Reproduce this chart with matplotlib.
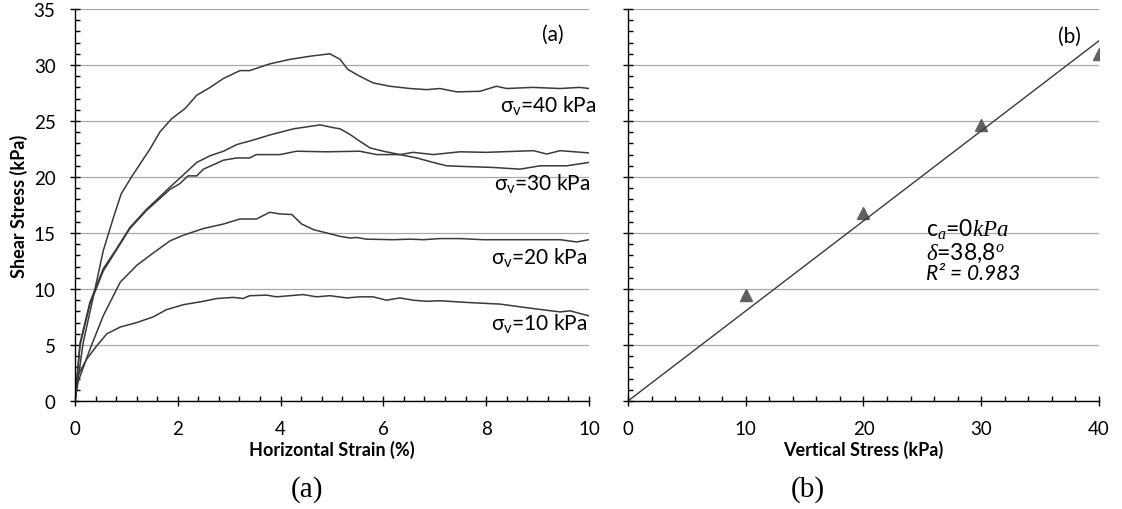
import numpy as np
import matplotlib
matplotlib.use("Agg")
import matplotlib.pyplot as plt
from matplotlib.ticker import MultipleLocator

plt.rcParams["font.family"] = ["Lato", "Open Sans", "DejaVu Sans"]
plt.rcParams["mathtext.fontset"] = "custom"
plt.rcParams["mathtext.rm"] = "Lato"
plt.rcParams["mathtext.it"] = "Liberation Serif:italic"

# (a) shear stress vs horizontal strain
s40_x = [0, 0.16, 0.39, 0.55, 0.75, 0.9, 1.1, 1.46, 1.65, 1.88, 2.14, 2.37, 2.63, 2.89,
         3.21, 3.4, 3.79, 4.18, 4.6, 4.96, 5.16, 5.31, 5.54, 5.8, 6.13, 6.52, 6.84, 7.1,
         7.43, 7.88, 8.2, 8.4, 8.91, 9.44, 9.82, 10]
s40_y = [0, 5.2, 10, 13.4, 16.4, 18.5, 20, 22.5, 24, 25.2, 26.1, 27.3, 28, 28.8,
         29.5, 29.5, 30.1, 30.5, 30.8, 31.0, 30.5, 29.6, 29.0, 28.4, 28.1, 27.9, 27.8, 27.9,
         27.6, 27.65, 28.1, 27.9, 28.0, 27.9, 28.0, 27.9]

s30a_x = [0, 0.1, 0.29, 0.55, 0.81, 1.07, 1.39, 1.85, 2.04, 2.37, 2.63, 2.89, 3.15, 3.47,
          3.79, 4.25, 4.77, 5.03, 5.16, 5.35, 5.54, 5.74, 6.0, 6.32, 6.65, 6.97, 7.23, 7.49,
          8.14, 8.66, 9.05, 9.57, 10]
s30a_y = [0, 5.2, 8.8, 11.8, 13.6, 15.5, 17.1, 19.1, 19.9, 21.3, 21.9, 22.3, 22.9, 23.3,
          23.75, 24.3, 24.65, 24.4, 24.3, 23.8, 23.2, 22.6, 22.3, 22.0, 21.7, 21.3, 21.0, 20.95,
          20.85, 20.7, 21.0, 21.0, 21.3]

s30b_x = [0, 0.1, 0.29, 0.55, 0.81, 1.07, 1.39, 1.85, 2.04, 2.2, 2.37, 2.5, 2.89, 3.15,
          3.4, 3.53, 3.99, 4.31, 4.9, 5.54, 5.87, 6.32, 6.58, 6.97, 7.49, 8.0, 8.92, 9.18,
          9.44, 10]
s30b_y = [0, 5.0, 8.6, 11.6, 13.5, 15.4, 17.0, 18.9, 19.4, 20.1, 20.1, 20.7, 21.5, 21.7,
          21.7, 22.0, 22.0, 22.3, 22.25, 22.3, 22.0, 22.0, 22.2, 22.0, 22.25, 22.2, 22.35, 22.05,
          22.35, 22.15]

s20_x = [0, 0.06, 0.29, 0.55, 0.88, 1.2, 1.46, 1.85, 2.11, 2.5, 2.89, 3.21, 3.53, 3.79,
         3.99, 4.22, 4.41, 4.64, 4.9, 5.16, 5.35, 5.48, 5.67, 6.19, 6.52, 6.78, 7.1, 7.49,
         7.94, 8.46, 8.98, 9.44, 9.76, 10]
s20_y = [0, 1.7, 4.6, 7.6, 10.6, 12.1, 13.0, 14.3, 14.8, 15.4, 15.8, 16.25, 16.25, 16.85,
         16.7, 16.65, 15.8, 15.3, 15.0, 14.7, 14.55, 14.6, 14.45, 14.4, 14.45, 14.4, 14.5, 14.5,
         14.4, 14.4, 14.4, 14.4, 14.2, 14.4]

s10_x = [0, 0.06, 0.23, 0.42, 0.62, 0.88, 1.2, 1.52, 1.78, 2.11, 2.5, 2.76, 3.08, 3.27,
         3.4, 3.73, 3.92, 4.44, 4.7, 4.96, 5.29, 5.54, 5.8, 6.06, 6.32, 6.58, 6.84, 7.1,
         7.62, 8.27, 8.92, 9.44, 9.63, 10]
s10_y = [0, 2.3, 3.75, 4.9, 6.0, 6.6, 7.0, 7.5, 8.15, 8.6, 8.9, 9.15, 9.25, 9.15,
         9.4, 9.45, 9.3, 9.5, 9.3, 9.4, 9.2, 9.3, 9.3, 9.0, 9.2, 9.0, 8.9, 8.95,
         8.8, 8.65, 8.25, 7.95, 8.05, 7.6]

curve_labels = ["σ$_{\\mathrm{v}}$=40 kPa", "σ$_{\\mathrm{v}}$=30 kPa",
                "σ$_{\\mathrm{v}}$=20 kPa", "σ$_{\\mathrm{v}}$=10 kPa"]

# (b) peak shear stress vs vertical stress
vertical_stress = [10, 20, 30, 40]
peak_shear = [9.5, 16.8, 24.6, 31.0]
c_a = 0.0
delta_deg = 38.8
r2 = 0.983

LINE = "#3a3a3a"
GRID = "#a8a8a8"

fig = plt.figure(figsize=(11.22, 5.10), dpi=100)
ax1 = fig.add_axes([0.0668, 0.2118, 0.4581, 0.7686])
ax2 = fig.add_axes([0.5597, 0.2118, 0.4198, 0.7686])


def style_axes(ax):
    for side in ("top", "right"):
        ax.spines[side].set_visible(False)
    for side in ("left", "bottom"):
        ax.spines[side].set_linewidth(1.0)
    ax.yaxis.grid(True, color=GRID, linewidth=0.9)
    ax.set_axisbelow(True)
    ax.tick_params(which="major", direction="inout", length=7, width=1.0,
                   labelsize=13.5, colors="black")
    ax.tick_params(which="minor", direction="in", length=3.6, width=1.0)
    ax.tick_params(axis="y", which="major", pad=10.5)
    ax.tick_params(axis="x", which="major", pad=10)
    ax.set_ylim(0, 35)
    ax.yaxis.set_major_locator(MultipleLocator(5))
    ax.yaxis.set_minor_locator(MultipleLocator(1))


style_axes(ax1)
for xs, ys in [(s40_x, s40_y), (s30a_x, s30a_y), (s30b_x, s30b_y),
               (s20_x, s20_y), (s10_x, s10_y)]:
    ax1.plot(xs, ys, color=LINE, lw=1.1)
ax1.set_xlim(0, 10)
ax1.xaxis.set_major_locator(MultipleLocator(2))
ax1.xaxis.set_minor_locator(MultipleLocator(0.4))
ax1.set_xlabel("Horizontal Strain (%)", fontsize=13, fontweight="bold", labelpad=2)
ax1.set_ylabel("Shear Stress (kPa)", fontsize=13, fontweight="bold", labelpad=4)

for label, (lx, ly) in zip(curve_labels, [(10.15, 26.5), (10.03, 19.55),
                                          (9.97, 12.9), (9.98, 7.05)]):
    ax1.text(lx, ly, label, ha="right", va="center", fontsize=15, clip_on=False)
ax1.text(9.3, 32.8, "(a)", ha="center", va="center", fontsize=15)

style_axes(ax2)
ax2.set_xlim(0, 40)
ax2.xaxis.set_major_locator(MultipleLocator(10))
ax2.xaxis.set_minor_locator(MultipleLocator(2))
ax2.tick_params(axis="y", which="both", labelleft=False)
ax2.plot(vertical_stress, peak_shear, linestyle="none", marker="^",
         markersize=8, color="#606060")
fit_x = np.array([0, 40])
ax2.plot(fit_x, c_a + np.tan(np.radians(delta_deg)) * fit_x, color=LINE, lw=1.0)
ax2.set_xlabel("Vertical Stress (kPa)", fontsize=13, fontweight="bold", labelpad=2)
ax2.text(37.5, 32.6, "(b)", ha="center", va="center", fontsize=15)
ax2.text(25.3, 15.4, "c$_{a}$=%g$kPa$" % c_a, ha="left", va="center", fontsize=16.5)
ax2.text(25.3, 13.3, "$\\delta$=%s$^{o}$" % str(delta_deg).replace(".", ","),
         ha="left", va="center", fontsize=16.5)
ax2.text(25.3, 11.4, "R² = %.3f" % r2, ha="left", va="center", fontsize=15,
         fontstyle="italic")

fig.text(307 / 1122, 1 - 490 / 510, "(a)", ha="center", va="center",
         fontsize=21, family="Liberation Serif")
fig.text(808 / 1122, 1 - 490 / 510, "(b)", ha="center", va="center",
         fontsize=21, family="Liberation Serif")

fig.savefig("out.png", dpi=100)
